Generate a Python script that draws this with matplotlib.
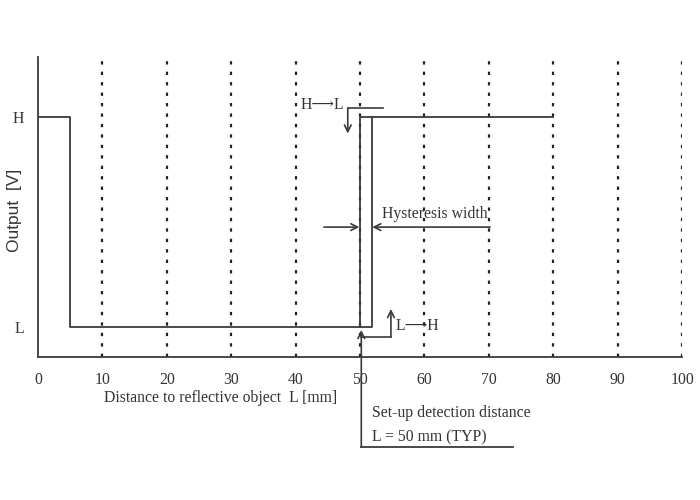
import matplotlib
matplotlib.use('Agg')
import matplotlib.pyplot as plt

plt.rcParams['font.family'] = ['Liberation Serif', 'DejaVu Serif']
plt.rcParams['font.size'] = 11.3

# output levels
H = 0.8
L = 0.1

# output curve (distance in mm)
curve_x = [0, 5, 5, 51.8, 51.8, 80]
curve_y = [H, H, L, L, H, H]
# hysteresis side of the loop
loop_x = [50, 50, 51.8]
loop_y = [L, H, H]

x_ticks = [0, 10, 20, 30, 40, 50, 60, 70, 80, 90, 100]
grid_x = [10, 20, 30, 40, 50, 60, 70, 80, 90, 100]
y_ticks = [H, L]
y_tick_labels = ['H', 'L']

line_col = '#3a3a3a'
text_col = '#333333'

fig = plt.figure(figsize=(7, 5), dpi=100)
ax = fig.add_axes([0.0543, 0.286, 0.92, 0.6])
ax.set_xlim(0, 100)
ax.set_ylim(0, 1)

for gx in grid_x:
    ax.plot([gx, gx], [0, 1], color='#222222', lw=1.6,
            linestyle=(0, (1.5, 3.2)), zorder=1)

ax.plot(curve_x, curve_y, color=line_col, lw=1.3, zorder=3)
ax.plot(loop_x, loop_y, color=line_col, lw=1.3, zorder=3)

ax.spines['top'].set_visible(False)
ax.spines['right'].set_visible(False)
ax.spines['left'].set_color(line_col)
ax.spines['bottom'].set_color(line_col)
ax.spines['left'].set_linewidth(1.3)
ax.spines['bottom'].set_linewidth(1.3)

ax.set_xticks(x_ticks)
ax.set_xticklabels([str(t) for t in x_ticks], color=text_col)
ax.set_yticks(y_ticks)
ax.set_yticklabels(y_tick_labels, color=text_col)
ax.tick_params(axis='x', length=0, pad=11)
ax.tick_params(axis='y', length=0, pad=10)

ax.text(28.4, -0.137, 'Distance to reflective object  L [mm]', ha='center', va='center',
        color=text_col, clip_on=False)
ax.text(-3.7, 0.49, 'Output  [V]', ha='center', va='center', rotation=90,
        color=text_col, clip_on=False, family=['Liberation Sans', 'DejaVu Sans'],
        fontsize=12.5)

arrow = dict(arrowstyle='->', color=line_col, lw=1.2, shrinkA=0, shrinkB=0,
             mutation_scale=12)

# H -> L marker
ax.plot([53.6, 48.1], [0.83, 0.83], color=line_col, lw=1.2)
ax.annotate('', xy=(48.1, 0.745), xytext=(48.1, 0.83), arrowprops=arrow)
ax.text(40.7, 0.84, 'H\u27F6L', ha='left', va='center', color=text_col)

# L -> H marker
ax.plot([50.2, 54.8], [0.067, 0.067], color=line_col, lw=1.2, clip_on=False)
ax.annotate('', xy=(54.8, 0.16), xytext=(54.8, 0.067), arrowprops=arrow)
ax.text(55.6, 0.105, 'L\u27F6H', ha='left', va='center', color=text_col)

# hysteresis width
ax.annotate('', xy=(49.9, 0.433), xytext=(44.4, 0.433), arrowprops=arrow)
ax.annotate('', xy=(51.9, 0.433), xytext=(70.2, 0.433), arrowprops=arrow)
ax.text(53.4, 0.475, 'Hysteresis width', ha='left', va='center', color=text_col)

# set-up detection distance
ax.annotate('', xy=(50.2, 0.09), xytext=(50.2, -0.3), arrowprops=arrow,
            annotation_clip=False)
ax.plot([50.2, 73.8], [-0.3, -0.3], color=line_col, lw=1.3, clip_on=False)
ax.text(51.9, -0.187, 'Set-up detection distance', ha='left', va='center',
        color=text_col, clip_on=False)
ax.text(51.9, -0.267, 'L = 50 mm (TYP)', ha='left', va='center',
        color=text_col, clip_on=False)

fig.savefig('out.png', dpi=100)
